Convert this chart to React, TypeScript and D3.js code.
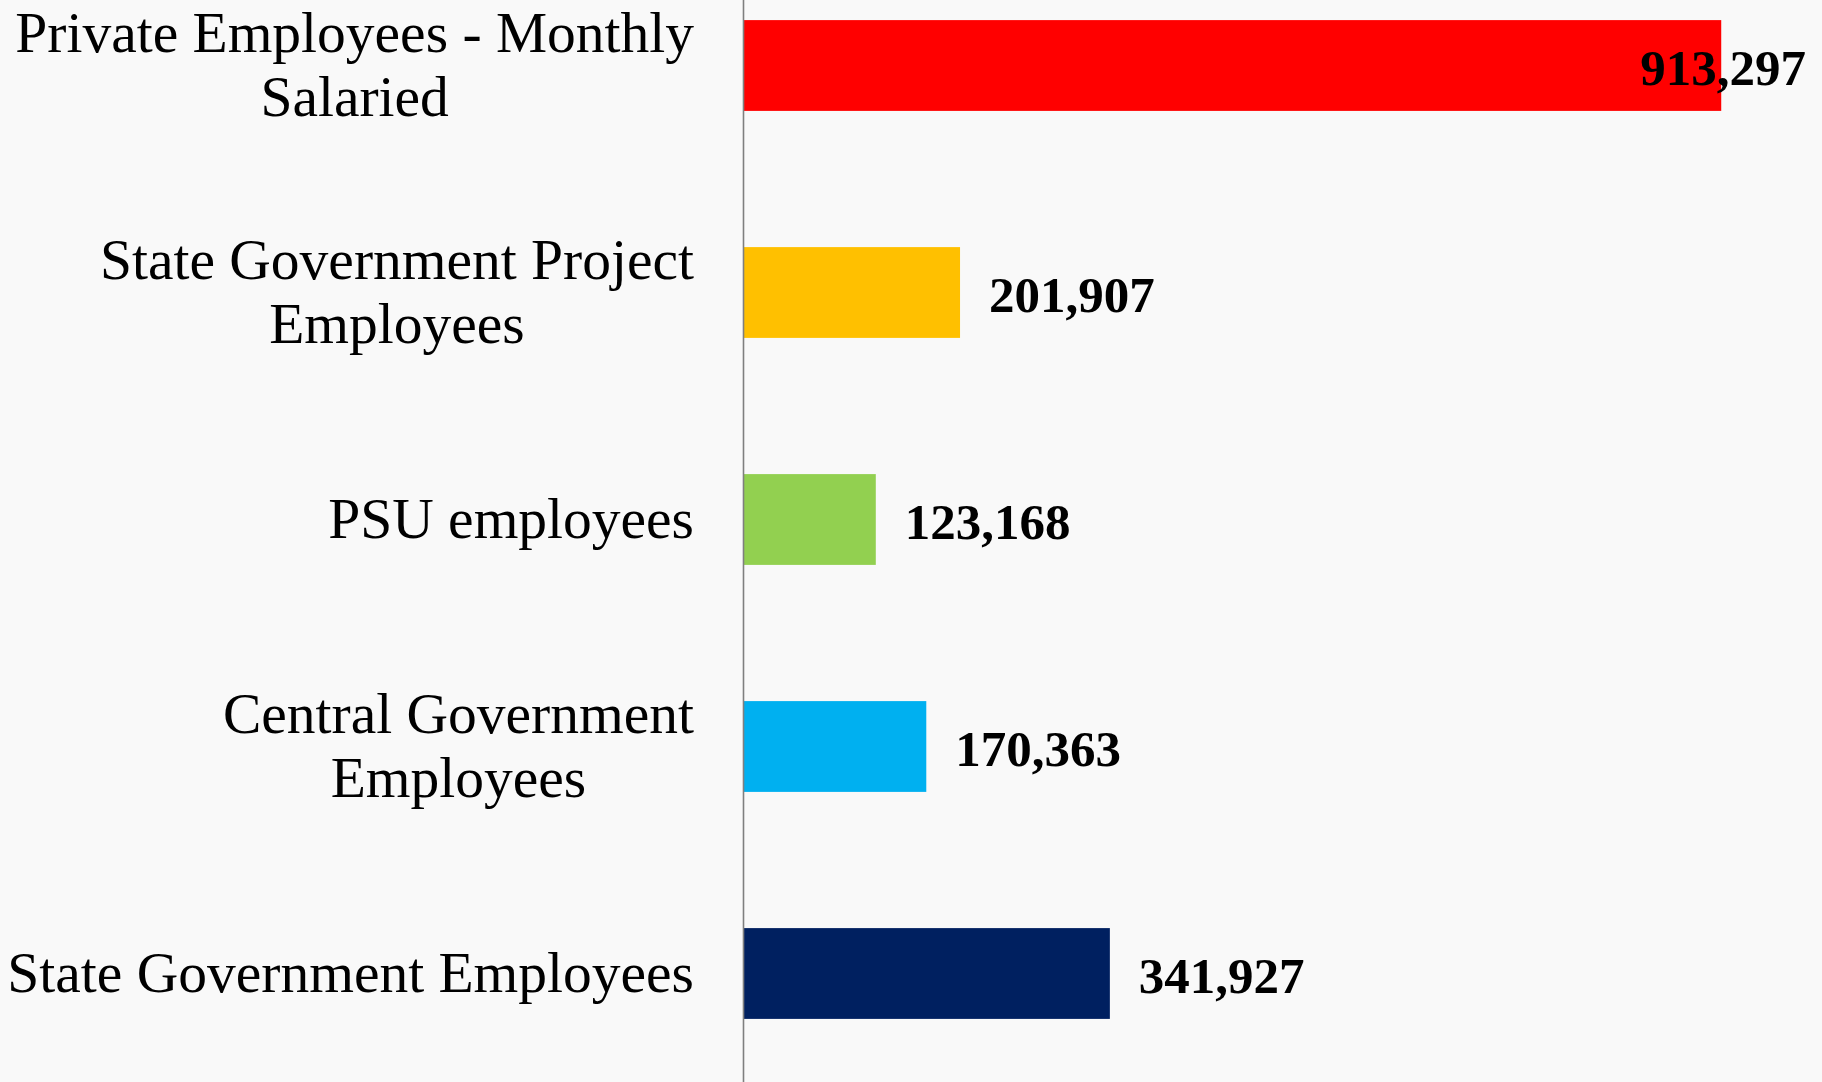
import * as d3 from 'd3'
import { useEffect, useRef } from 'react'

const categories = [
  'Private Employees - Monthly Salaried',
  'State Government Project Employees',
  'PSU employees',
  'Central Government Employees',
  'State Government Employees',
]
const labelLines = [
  ['Private Employees - Monthly', 'Salaried'],
  ['State Government Project', 'Employees'],
  ['PSU employees'],
  ['Central Government', 'Employees'],
  ['State Government Employees'],
]
const values = [913297, 201907, 123168, 170363, 341927]
const colors = ['#ff0000', '#ffc000', '#92d050', '#00b0f0', '#002060']

const W = 1822
const H = 1082
const axisX = 744
const labelRight = 694
const plotRight = 1806

export default function App() {
  const ref = useRef<SVGSVGElement | null>(null)

  useEffect(() => {
    document.body.style.margin = '0'
    const svgEl = ref.current
    if (!svgEl) return
    const svg = d3.select(svgEl)
    svg.selectAll('*').remove()

    svg.append('rect').attr('width', W).attr('height', H).attr('fill', '#f9f9f9')

    const y = d3.scaleBand<string>().domain(categories).range([-48, 1087]).paddingInner(0.6).paddingOuter(0.3)
    const x = d3.scaleLinear().domain([0, 1000000]).range([axisX, axisX + 1070])
    const fmt = d3.format(',')

    const gBars = svg.append('g')
    categories.forEach((c, i) => {
      gBars
        .append('rect')
        .attr('x', x(0))
        .attr('y', y(c)!)
        .attr('width', x(values[i]) - x(0))
        .attr('height', y.bandwidth())
        .attr('fill', colors[i])
    })

    svg
      .append('line')
      .attr('x1', axisX - 0.5)
      .attr('x2', axisX - 0.5)
      .attr('y1', 0)
      .attr('y2', H)
      .attr('stroke', '#7f7f7f')
      .attr('stroke-width', 1.6)

    // category labels: lines centred within a block whose right edge sits at labelRight
    const capH = 36
    const lh = 64
    categories.forEach((c, i) => {
      const cy = y(c)! + y.bandwidth() / 2
      const lines = labelLines[i]
      const g = svg.append('g')
      const texts = lines.map((ln, j) =>
        g
          .append('text')
          .attr('text-anchor', 'middle')
          .attr('y', cy + capH / 2 + (j - (lines.length - 1) / 2) * lh)
          .attr('font-family', '"Liberation Serif", serif')
          .attr('font-size', 57.5)
          .attr('fill', '#000')
          .text(ln),
      )
      const maxW = d3.max(texts, (t) => (t.node() as SVGTextElement).getComputedTextLength()) ?? 0
      texts.forEach((t) => t.attr('x', labelRight - maxW / 2))
    })

    // value labels
    categories.forEach((c, i) => {
      const cy = y(c)! + y.bandwidth() / 2
      const t = svg
        .append('text')
        .attr('y', cy + 19)
        .attr('font-family', '"Liberation Serif", serif')
        .attr('font-weight', 'bold')
        .attr('font-size', 51)
        .attr('fill', '#000')
        .text(fmt(values[i]))
      const tw = (t.node() as SVGTextElement).getComputedTextLength()
      t.attr('x', Math.min(x(values[i]) + 29, plotRight - tw))
    })
  }, [])

  return <svg ref={ref} width={W} height={H} style={{ display: 'block' }} />
}
